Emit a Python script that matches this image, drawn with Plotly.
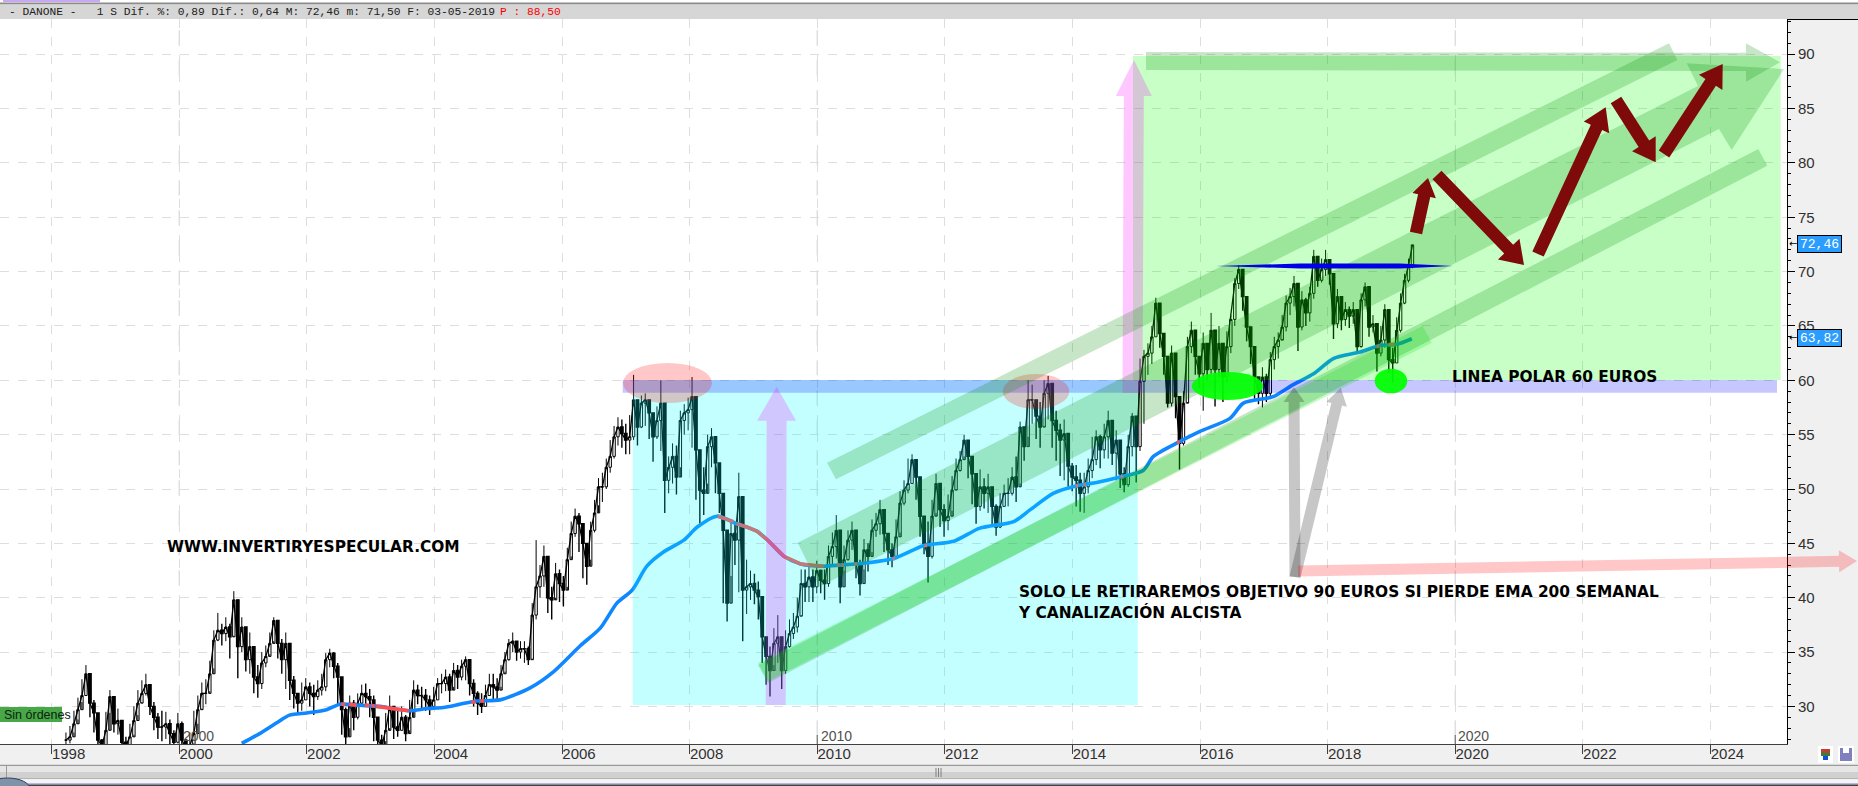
import numpy as np
import plotly.graph_objects as go

# ---------- price data (three-week bars) ----------
close_a = [26.9,27.2,28.4,29.7,31,33,30.3,29.4,26.9,26.4,
27.8,30.9,28.4,28.7,26.7,26.4,27.2,28.7,30.3,31.2,
32,30,29,28.1,28.1,28.4,27.5,26.7,28.4,26.9,
26.2,26.4,27.5,29.7,31.2,31.2,33,36.1,37,36.7,
37.3,36.4,39.8,35.5,37.3,34.3,35.5,32.7,32.1,34,
34.6,35.8,37.9,35.8,34.3,35.8,32.4,31.2,30.3,30.6,
31.8,31.2,30.9,31.5,31.8,34.3,34.9,33.7,32.7,29.7,
27.2,30.3,29,30.3,31.2,30.9,30.6,29,26.9,26.4,
27.8,30,28.1,27.8,29,27.5,29,31.5,31,31,
30.6,30,30.6,32.1,32.1,32.7,31.5,33.3,32.7,33.7,
34.3,32.1,31.2,30.3,30]
high_a = [27.6,28.2,29.6,30.8,32.5,33.8,32,30.6,28.2,27,
29.5,31.5,30.6,29.8,28.6,27.2,28.4,30,31.5,32.4,
33,32,30.4,29.4,29.6,29.5,28.8,27.8,29.4,28.6,
27,27.6,29.6,31,32.2,32.5,34.2,37,38.6,37.6,
38.2,37.6,40.6,38,38.2,37.2,36.8,35.2,33.8,35,
35.6,36.8,38.2,37.6,36.2,36.8,35.2,32.8,31.2,32.2,
32.6,32.2,32,32.4,33,34.9,35.3,35,34,32.2,
29.9,31,30.6,31.2,32,32.1,31.6,31,28.2,27.4,
29.4,31,30,29.6,30,29.2,30.6,32.4,32,31.8,
31.6,31,31.8,32.6,33,33.4,33,34,33.8,34.3,
34.6,34,32.5,31.4,31.2]
low_a = [26,26.6,27.6,28.8,30.4,31,29,27.6,25.8,25.8,
26.4,29.4,27.6,27.4,25.8,25.8,26.4,27.4,29.2,30.4,
31,29.2,27.8,27,26.8,27,26.4,25.8,26.6,25.8,
25.6,25.8,26.6,28.4,29.8,30.2,31.4,33.5,36,35.6,
36,34.4,36.5,32.6,35,33.2,33,31.2,30.8,31.6,
33.6,34.8,36,34.4,33,31.6,30.6,29.8,29.2,29.6,
30.6,30,29.2,30.6,31,31.4,33.6,32.6,30.2,27.4,
25.6,28,27.8,28.8,30.2,30.2,29,26.8,25.6,25.6,
26.8,28,27,27.2,27.8,26.8,27.8,29.6,30.2,29.8,
29.6,29.2,29.8,30.6,31.2,31.4,30.4,31.8,31.6,32.4,
32.4,31,30,29.2,29.4]

close_b = [31,32,31.8,31.5,33,34.3,35.8,36,35,35.3,
35.3,34.3,38.4,41,42,43.8,40,39.8,42.2,41.3,
40.7,43.5,45.9,47.5,46.8,45,42.9,46.2,47.8,50.2,
50.2,52,53,54.8,55.7,55.1,54.5,54.8,58.2,55.7,
57.9,58.2,57,54.8,56.3,57.9,50.8,52,53,51.1,
56.3,57,57.3,58.5,53.6,49.9,49.6,53.9,54.8,52.4,
49.6,46.2,39.5,45.9,45.3,49.3,40.7,41,41.3,40.7,
40.1,36.4,34.6,33.3,35.8,36.4,33.3,35.5,36.7,37.3,
38.3,41.3,41,41.9,41,42.5,41.6,41.3,43.8,44.7,
46.2,41]
high_b = [32,33,33,32.6,33.8,35,36.2,36.8,36,36,
36,35.5,39.5,45.3,43,44.8,42,41,43.2,42.6,
42,44.6,47,48.2,47.8,46.5,44.6,47,49,51,
51.5,52.8,54.5,55.8,56.6,56.4,56,56.8,60.5,57.6,
58.6,58.8,58,56.5,57.6,60,53,53,54.2,54,
57.2,57.8,58.4,60.3,55.5,51,52,55,55.6,53.8,
51,49,46,47,46.8,51.5,46,43.5,42.5,42.2,
41.5,38.5,36,35.5,37.2,38.4,36,37,38,38.6,
40,42.6,42.6,43,42.6,43.4,42.6,42.6,44.8,46,
47.6,43.5]
low_b = [30,31,30.6,30.6,31.8,33.2,34.2,35,34.2,34.4,
34,33.8,34.4,38,40,41,38.6,38,40,39.6,
39.2,41,43.8,45.6,44.2,41.8,41.2,43.5,46,48.5,
48.8,50,51.5,52.8,54,53.8,53.2,53.2,54.5,54,
55.6,55.8,54.6,52.5,54.6,53.5,47.8,49.6,50.5,49.5,
52,55,55.4,53.8,49,46.8,47.6,50.5,52,49.6,
47.8,39.5,37.8,42,43,40.5,36,38.5,39.8,39.4,
38,34,32,30.9,33.8,34,31.6,33,35.4,36.2,
36.8,38.4,39.6,39.6,39.6,40.4,40.4,39.8,41,43,
43.6,39.5]

close_c = [43.5,45.3,46.2,43.2,41.3,44.4,43.8,46.2,46.8,48.1,
45.9,44.4,43.8,45.6,48.7,49.9,50.5,52.7,51.1,47.5,
45,43.8,47.5,50.5,48.1,47.1,47.5,49.9,51.7,52.7,
54.5,53,51.4,48.4,50.2,49.6,50.2,48.4,46.5,48.4,
49.6,49.6,51.1,50.2,55.7,53.9,58.2,58.2,56.7,55.7,
58.8,59.7,56.3,55.4,54.5,55.1,52.1,51.1,50.8,49.6,
50.2,51.7,52.7,54.8,53.6,54.8,56.3,53.3,54.5,51.4,
50.4,53.9,56.7,53.9]
high_c = [44.8,46.2,47,45,43.5,45.4,45,47.2,47.8,49,
47.4,45.6,45,47.2,49.8,50.8,52.8,53.2,52.6,50,
46.8,47,49,51.4,50,48.6,49.5,51.2,52.8,53.5,
55,54.4,53,50.6,51.8,51,51.4,50,48.6,49.6,
50.4,51,52,53,56.2,55.6,60,59.6,58,58,
60,60.4,58,57.2,56,56.4,54,52.4,52.2,51.5,
51.5,52.8,54.8,55.4,55,56,57.2,55.8,55.4,53.6,
52,55,57,56]
low_c = [42.5,43.4,44.4,41.8,40.2,42.6,42.4,44.2,45.6,45.8,
44.2,43,42.8,43.6,46,48.5,49.6,50.5,49,45.6,
44,41.4,43.6,47.8,46.5,45.6,46.2,48,50,51.6,
53,51,48.6,46.8,48,48.2,47.8,46.6,45.7,46.4,
48.4,48.4,49.4,48.8,50.5,52.6,54.8,56,54.6,53.8,
55.8,56.4,53.8,52.6,51.2,50.8,50.2,49.8,48.4,47.9,
47.8,49.6,51,52.2,51.9,52.8,52.8,52.2,50.8,50.1,
49.7,50.2,53,50.6]

close_d = [59.9,62.2,62.5,64,67.1,64.3,62.2,57.9,62.5,58.5,
54.2,57.9,63.1,64.6,62.2,60.6,63.4,61,64.6,61,
63.4,60.3,63.1,65.6,68.9,70.2,67.7,64.9,63.1,60.3,
58.8,60.3,58.8,61.9,63.1,63.7,64.9,67.1,67.7,68.9,
64.9,67.4,66.2,68,71.4,69.2,70.2,71.1,69.8,65.2,
67.7,65.6,66.5,65.9,66.5,63.1,67.4,68.6,64.9,65.2,
62.5,63.7,66.5,61.9,61.6,64.6,67.1,69.2,70.5,72.46]
high_d = [62,62.8,63.4,65,67.6,65.6,63.8,60.2,63.2,59.5,
55.6,59,64,65.4,63.5,62.2,64.4,62.2,66.2,62.6,
65,62,64.5,66,69.4,70.6,69,66,64.2,61.6,
60.2,61.2,60.6,62.6,64,64.4,66,67.8,68.5,69.6,
66.5,68.2,67.6,68.6,72,70.6,71.2,72,70.8,66.2,
68.4,67,67.2,66.8,67.2,64.4,68,69,66.4,66,
63.6,65,67,63,63,65.8,68,69.8,71.2,72.46]
low_d = [53.5,56,60.5,61.5,64,63,60.5,57.5,57.6,56.5,
51.8,54,58,62.5,60.5,59.3,57.2,60,60.6,57.6,
60.3,58,59.8,62.5,65,68.4,66.4,63.6,61.5,58.3,
57.8,57.5,58,58.4,61,62,63.8,64.5,66,66.8,
62.7,64.6,65,65.4,67.5,68.6,69,69.6,68.8,63.8,
64.8,64.6,65,64.8,65.2,62.5,63,66.8,64,64.4,
60.8,62.2,63,60.7,59.8,61.6,64.4,67,69,70.3]

ema_years = [2000.98,2001.26,2001.53,2001.73,2002.0,2002.31,2002.52,2002.83,2003.15,2003.35,2003.62,2003.88,2004.14,2004.4,2004.66,
2005.03,2005.5,2005.87,2006.29,2006.6,2006.86,2007.1,2007.33,2007.59,2007.91,2008.12,2008.43,2008.74,2009.06,2009.24,2009.48,2009.74,
2010.1,2010.36,2010.78,2011.2,2011.51,2011.67,2012.14,2012.55,2013.08,2013.34,2013.7,2014.07,2014.38,2014.75,2015.11,2015.27,2015.66,
2016.0,2016.47,2016.68,2017.15,2017.46,2017.78,2018.09,2018.51,2018.82,2019.08,2019.32]
ema_values = [26.6,27.5,28.5,29.2,29.4,29.7,30.2,30.1,30,29.8,29.6,29.8,29.9,30.2,30.5,
30.6,31.7,33.2,35.6,37.2,39.5,40.7,42.9,44.2,45.3,46.5,47.5,46.8,46.1,45.2,43.8,43.1,
42.9,43,43.2,43.6,44.4,44.8,45.2,46.4,47,48.1,49.6,50.3,50.6,51.1,51.7,53,54.3,
55.3,56.5,57.9,58.5,59.6,60.6,62,62.6,63.2,63.3,63.82]
# stretches where the average is drawn red (None separates stretches)
ema_red_years = [2002.54,2002.6,None,2002.66,2002.78,None,2002.91,2002.98,None,2003.01,2003.07,None,
2003.09,2003.35,2003.6,None,2004.58,2004.64,None,2004.72,2004.78,None,
2008.44,2008.69,None,2008.74,2008.9,2009.06,2009.24,2009.48,2009.74,2010.1,None,
2010.31,2010.35,None,2010.38,2010.42,None,2010.58,2010.62,None,2011.18,2011.22,None,2011.68,2011.72,None,
2014.05,2014.09,None,2014.17,2014.21,None,2014.76,2014.8,None,2015.64,2015.68,None,2018.77,2018.81,None,2018.96,2019.05]
ema_red_values = [30.2,30.2,None,30.2,30.1,None,30.1,30.1,None,30.1,30,None,
30,29.8,29.6,None,30.4,30.4,None,30.5,30.5,None,
47.5,47,None,46.8,46.5,46.1,45.2,43.8,43.1,42.9,None,
43,43,None,43,43,None,43.1,43.1,None,43.6,43.6,None,44.8,44.8,None,
50.3,50.3,None,50.4,50.4,None,51.1,51.1,None,54.3,54.3,None,63.1,63.1,None,63.3,63.3]

tick_years = list(range(1998, 2025, 2))
price_ticks = list(range(30, 95, 5))
header_text = "-\u00a0DANONE\u00a0-\u00a0\u00a0\u00a01\u00a0S\u00a0Dif.\u00a0%:\u00a00,89\u00a0Dif.:\u00a00,64\u00a0M:\u00a072,46\u00a0m:\u00a071,50\u00a0F:\u00a003-05-2019"
header_target = "P\u00a0:\u00a088,50"

# ---------- scale of the reference ----------
W, H = 1858, 786
PL, PT, PR, PB = 0, 19, 1787, 744
PX_YEAR = 63.8
PX_UNIT = 10.87
def yr(px): return 1998 + (px - 51.6) / PX_YEAR
def pr(py): return 60 - (py - 380.3) / PX_UNIT
def xp(px): return px / PR
def yp(py): return (PB - py) / (PB - PT)

for a in [(close_a, high_a, low_a), (close_b, high_b, low_b), (close_c, high_c, low_c), (close_d, high_d, low_d)]:
    assert len(a[0]) == len(a[1]) == len(a[2]), [len(v) for v in a]

years = np.concatenate([
    np.linspace(1998.225, 2004.74, len(close_a)),
    np.linspace(2004.80, 2010.36, len(close_b)),
    np.linspace(2010.42, 2015.00, len(close_c)),
    np.linspace(2015.06, 2019.33, len(close_d)),
])
closes = close_a + close_b + close_c + close_d
highs = high_a + high_b + high_c + high_d
lows = low_a + low_b + low_c + low_d
opens = [closes[0]] + closes[:-1]

fig = go.Figure()
fig.add_trace(go.Candlestick(
    x=years, open=opens, high=highs, low=lows, close=closes,
    increasing=dict(line=dict(color="#000000", width=1), fillcolor="#ffffff"),
    decreasing=dict(line=dict(color="#000000", width=1.4), fillcolor="#000000"),
    whiskerwidth=0, showlegend=False, hoverinfo="skip"))
fig.add_trace(go.Scatter(x=years, y=closes, mode="lines",
                         line=dict(color="#000000", width=1.3), showlegend=False, hoverinfo="skip"))
fig.add_trace(go.Scatter(x=ema_years, y=ema_values, mode="lines",
                         line=dict(color="#0f88ff", width=3.6, shape="spline", smoothing=0.7),
                         showlegend=False, hoverinfo="skip"))
fig.add_trace(go.Scatter(x=ema_red_years, y=ema_red_values, mode="lines", connectgaps=False,
                         line=dict(color="#ff5050", width=3.6), showlegend=False, hoverinfo="skip"))

shapes = []
def path_data(pts):
    return "M" + "L".join(f"{yr(a):.4f},{pr(b):.3f}" for a, b in pts) + "Z"
def poly(pts, fill):
    shapes.append(dict(type="path", xref="x", yref="y", path=path_data(pts), fillcolor=fill,
                       line=dict(width=0), layer="above"))
def rect(x0, y0, x1, y1, fill):
    shapes.append(dict(type="rect", xref="x", yref="y", x0=yr(x0), x1=yr(x1), y0=pr(y0), y1=pr(y1),
                       fillcolor=fill, line=dict(width=0), layer="above"))
def ellipse(x0, y0, x1, y1, fill):
    shapes.append(dict(type="circle", xref="x", yref="y", x0=yr(x0), x1=yr(x1), y0=pr(y0), y1=pr(y1),
                       fillcolor=fill, line=dict(width=0), layer="above"))
def chrome(x0, y0, x1, y1, fill, layer="above"):
    shapes.append(dict(type="rect", xref="paper", yref="paper", x0=xp(x0), x1=xp(x1), y0=yp(y0), y1=yp(y1),
                       fillcolor=fill, line=dict(width=0), layer=layer))
def arrow(tail, tip, w, head_w, head_l):
    t, p = np.array(tail, float), np.array(tip, float)
    d = (p - t) / np.linalg.norm(p - t)
    n = np.array([-d[1], d[0]])
    b = p - d * head_l
    return [t + n*w/2, b + n*w/2, b + n*head_w/2, p, b - n*head_w/2, b - n*w/2, t - n*w/2]

CYAN = "rgba(0,255,255,0.23)"; GREEN = "rgba(0,255,0,0.22)"; BLUE = "rgba(0,0,255,0.22)"
RED = "rgba(255,0,0,0.22)"; MAG = "rgba(255,0,255,0.22)"; CH = "rgba(0,140,0,0.22)"
BRIGHT = "rgba(0,225,0,0.22)"; GRAY = "rgba(0,0,0,0.22)"; BROWN = "#7f0a0a"

# long year grid lines and the tall ticks
for y_ in (2000, 2010, 2020):
    shapes.append(dict(type="line", xref="x", yref="paper", x0=y_, x1=y_, y0=0.012, y1=1,
                       line=dict(color="#cfcfcf", width=1, dash="longdash"), layer="below"))
    shapes.append(dict(type="line", xref="x", yref="paper", x0=y_, x1=y_, y0=0, y1=yp(735),
                       line=dict(color="#505050", width=1), layer="above"))

rect(632.7, 380, 1137.8, 705, CYAN)
rect(1133, 56, 1780.7, 380, GREEN)
rect(622.7, 380, 1777, 392.7, BLUE)
ellipse(623, 363, 712, 403, RED)
ellipse(1002.7, 374, 1069.3, 409, RED)
poly(arrow((775.7, 705), (776.7, 386.7), 20, 39, 34), MAG)
poly(arrow((1132.5, 393), (1134, 60), 20, 36, 36), MAG)
# rising channels
poly([(827, 462.7), (1669, 43.3), (1677.3, 60), (836, 479.3)], CH)
poly([(797.7, 542.7), (1698, 86), (1686.7, 63.3), (1784, 69), (1731.7, 150), (1719, 129), (819.4, 586.7)], CH)
poly([(758, 665), (1758.3, 149), (1767.3, 165.7), (768, 683)], CH)
poly([(758, 663), (1422.7, 326), (1431.7, 342.7), (768, 681)], BRIGHT)
poly([(1146, 52), (1746, 52.7), (1746, 43.3), (1780, 62.3), (1746, 81.7), (1746, 71), (1146, 70)], CH)
# grey arrows to the support
poly(arrow((1295, 577), (1294, 387), 11, 21, 15), GRAY)
poly(arrow((1295, 577), (1340.7, 387.7), 11, 21, 17), GRAY)
# resistance line, support marks
poly([(1216, 266), (1300, 263.5), (1400, 263.5), (1453, 266), (1400, 268.5), (1300, 268.5)], "#0000e6")
ellipse(1191.7, 372, 1263.3, 400, "rgba(0,255,0,0.93)")
ellipse(1374.7, 368.7, 1407.3, 393.3, "rgba(0,255,0,0.93)")
# projected path
poly(arrow((1416, 233), (1428, 178), 12.5, 24, 18), BROWN)
poly(arrow((1437, 175), (1524, 265), 12.5, 30, 22), BROWN)
poly(arrow((1538, 254), (1605.7, 107.3), 12.5, 28, 22), BROWN)
poly(arrow((1616, 100), (1655.7, 162.3), 12.5, 28, 22), BROWN)
poly(arrow((1664, 154), (1722.7, 64), 12.5, 28, 22), BROWN)

# window chrome
chrome(0, 0, W, 3, "#ffffff")
chrome(3, 0, 100, 2, "#c8a8f0")
chrome(0, 2.5, W, 4.5, "#8c8c8c")
chrome(0, 4.5, W, 19, "#d6d6d6")
chrome(PR, 19, W, 20, "#000000")
chrome(0, 707, 62, 722, "#46a846")
chrome(0, 764.7, W, 766, "#9a9a9a")
chrome(0, 766, W, 772, "#e6e6e6")
chrome(0, 772, W, 778, "#d0d0d0")
chrome(0, 778, W, 779.3, "#b4b4b4")
chrome(0, 779.3, W, 783, "#f4f4f4")
chrome(0, 783, W, 784.5, "#c0b4e0")
chrome(0, 784.5, W, 786, "#404048")
chrome(6, 766, 7, 779, "#9a9a9a")
for gx in (935.5, 938, 940.5):
    chrome(gx, 768, gx + 1, 777, "#808080")
chrome(1818, 746, 1833, 763, "#ffffff")
chrome(1821, 749, 1830, 753, "#c04030")
chrome(1821, 753, 1830, 756, "#308040")
chrome(1823, 756, 1828, 760, "#1050e0")
chrome(1838, 746, 1854, 763, "#ffffff")
chrome(1840, 748, 1852, 761, "#8080c0")
chrome(1843, 748, 1849, 753, "#ffffff")
shapes.append(dict(type="circle", xref="paper", yref="paper", x0=xp(-15), x1=xp(30), y0=yp(800), y1=yp(778),
                   fillcolor="#7f93a8", line=dict(color="#304060", width=1), layer="above"))
# pale red arrow runs on across the price panel
pink = arrow((1298, 571), (1857, 561), 11, 22, 18)
shapes.append(dict(type="path", xref="paper", yref="paper",
                   path="M" + "L".join(f"{xp(a):.5f},{yp(b):.5f}" for a, b in pink) + "Z",
                   fillcolor=RED, line=dict(width=0), layer="above"))

anns = []
def text(px, py, s, size, color="#000000", family="DejaVu Sans", anchor="left", **kw):
    anns.append(dict(xref="paper", yref="paper", x=xp(px), y=yp(py), text=s, showarrow=False,
                     xanchor=anchor, yanchor="middle", font=dict(size=size, color=color, family=family),
                     borderpad=0, **kw))
BOLD = "DejaVu Sans"
text(166, 546.5, "<b>WWW.INVERTIRYESPECULAR.COM</b>", 15.4, family=BOLD)
text(1018, 592, "<b>SOLO LE RETIRAREMOS OBJETIVO 90 EUROS SI PIERDE EMA 200 SEMANAL</b>", 15.4, family=BOLD)
text(1017, 612, "<b>Y CANALIZACIÓN ALCISTA</b>", 15.4, family=BOLD)
text(1450.7, 377, "<b>LINEA POLAR 60 EUROS</b>", 15.4, family=BOLD)
MONO = "Liberation Mono"
NARROW = "Liberation Sans Narrow, Liberation Sans"
text(8, 11.5, header_text, 11.25, family=MONO, color="#202020")
text(499, 11.5, header_target, 11.25, family=MONO, color="#ff0000")
text(3, 714.5, "Sin órdenes", 12.5, color="#102010", family=NARROW)
text(182, 736, "2000", 14, color="#505050", family=NARROW)
text(820, 736, "2010", 14, color="#505050", family=NARROW)
text(1457, 736, "2020", 14, color="#505050", family=NARROW)
for val, py in ((72.46, 244), (63.82, 338)):
    label = f"{val:.2f}".replace(".", ",")
    anns.append(dict(xref="paper", yref="paper", x=xp(1819.5), y=yp(py), text=label, showarrow=False,
                     xanchor="center", yanchor="middle", width=43, height=16, bgcolor="#2a9dff",
                     bordercolor="#000000", borderwidth=1, borderpad=0,
                     font=dict(size=13, color="#ffffff", family=MONO)))
    text(1787.5, py, "←", 10, color="#000000", family="DejaVu Sans")

fig.update_layout(
    width=W, height=H, autosize=False,
    margin=dict(l=PL, r=W - PR, t=PT, b=H - PB, pad=0),
    paper_bgcolor="#f0f0f0", plot_bgcolor="#ffffff", boxgap=0.1,
    showlegend=False, shapes=shapes, annotations=anns,
    xaxis=dict(range=[yr(0), yr(PR)], tickmode="array", tickvals=tick_years, ticktext=[str(v) for v in tick_years],
               rangeslider=dict(visible=False), showgrid=True, griddash="dash", gridcolor="#dedede", gridwidth=1,
               ticks="outside", ticklen=9, tickcolor="#404040", tickwidth=1, ticklabelshift=17, ticklabelstandoff=-13,
               tickfont=dict(family=NARROW, size=15, color="#303030"),
               showline=True, linecolor="#404040", linewidth=1, zeroline=False),
    yaxis=dict(range=[pr(PB), pr(PT)], side="right", tickmode="array", tickvals=price_ticks,
               showgrid=True, griddash="dash", gridcolor="#dedede", gridwidth=1,
               ticks="outside", ticklen=7, tickcolor="#000000", tickwidth=1,
               minor=dict(dtick=1, ticks="outside", ticklen=3, tickcolor="#000000", tickwidth=1, showgrid=False),
               tickfont=dict(family=NARROW, size=15, color="#303030"),
               showline=True, linecolor="#000000", linewidth=1, zeroline=False),
)
fig.write_html("out.html", config={"displayModeBar": False},
               post_script="document.body.style.margin='0';document.body.style.overflow='hidden';")
